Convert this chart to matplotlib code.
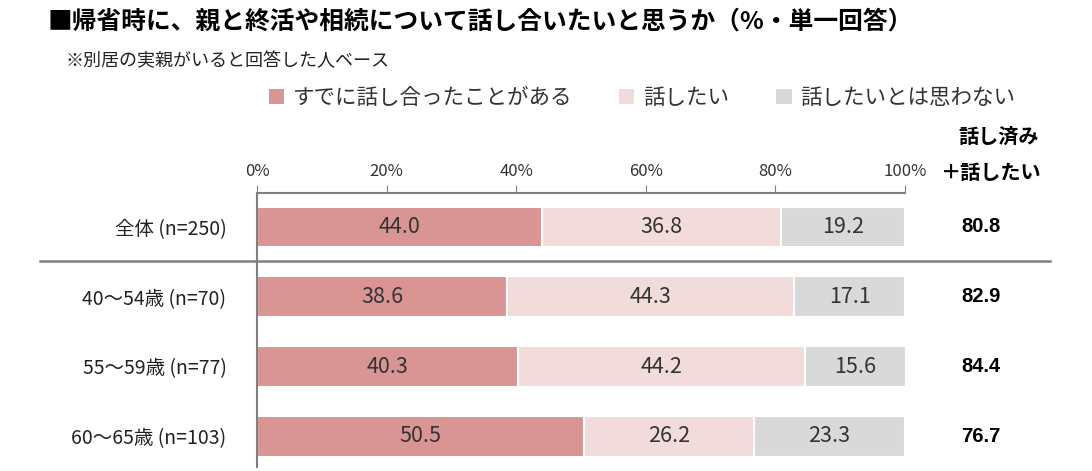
import matplotlib
matplotlib.use('Agg')
from matplotlib import pyplot as plt
from matplotlib.patches import Patch
from matplotlib.lines import Line2D

plt.rcParams['font.family'] = ['Noto Sans CJK JP', 'DejaVu Sans']

# Data
groups = ['全体 (n=250)', '40～54歳 (n=70)', '55～59歳 (n=77)', '60～65歳 (n=103)']
already = [44.0, 38.6, 40.3, 50.5]
want = [36.8, 44.3, 44.2, 26.2]
not_want = [19.2, 17.1, 15.6, 23.3]
totals = [80.8, 82.9, 84.4, 76.7]
series_names = ['すでに話し合ったことがある', '話したい', '話したいとは思わない']
colors = ['#D99594', '#F2DCDB', '#D9D9D9']
ticks = [0, 20, 40, 60, 80, 100]

fig = plt.figure(figsize=(10.92, 4.71), dpi=100)
ax = fig.add_axes([257/1092, 1-467/471, (905-257)/1092, (467-193)/471])

ypos = list(range(len(groups)))
left = [0]*len(groups)
for vals, col in zip([already, want, not_want], colors):
    ax.barh(ypos, vals, left=left, height=0.58, color=col, edgecolor='white', linewidth=1.5)
    for y, v, l in zip(ypos, vals, left):
        ax.text(l + v/2, y, '%.1f' % v, ha='center', va='center', fontsize=15.5, color='#333333')
    left = [a + b for a, b in zip(left, vals)]

ax.set_xlim(0, 100)
ax.set_ylim(3.44, -0.486)
ax.xaxis.tick_top()
ax.set_xticks(ticks)
ax.set_xticklabels(['%d%%' % t for t in ticks], fontsize=12, color='#333333')
ax.tick_params(axis='x', length=6, color='#808080', pad=3, direction='out')
ax.set_yticks(ypos)
ax.set_yticklabels(groups, fontsize=14, color='#222222')
ax.tick_params(axis='y', length=0, pad=22)
for s in ['right', 'bottom']:
    ax.spines[s].set_visible(False)
for s in ['top', 'left']:
    ax.spines[s].set_color('#808080')
    ax.spines[s].set_linewidth(1.5)

# separator between total and age groups
fig.add_artist(Line2D([40/1092, 1050/1092], [1-261/471, 1-261/471], color='#808080', lw=1.8))

# right column
for y, t in zip(ypos, totals):
    ax.text(1.117, y, '%.1f' % t, transform=ax.get_yaxis_transform(), ha='center', va='center',
            fontsize=14.5, fontweight='bold', family=['Liberation Sans', 'DejaVu Sans'])
fig.text(999/1092, 1-136/471, '話し済み', ha='center', va='center', fontsize=14.5, fontweight='bold')
fig.text(990/1092, 1-173/471, '＋話したい', ha='center', va='center', fontsize=14.5, fontweight='bold')

# title
fig.text(48/1092, 1-22/471, '■帰省時に、親と終活や相続について話し合いたいと思うか（%・単一回答）',
         ha='left', va='center', fontsize=17.8, fontweight='bold')
fig.text(65/1092, 1-61/471, '※別居の実親がいると回答した人ベース', ha='left', va='center', fontsize=13,
         color='#222222')

handles = [Patch(facecolor=c, edgecolor='none') for c in colors]
fig.legend(handles, series_names, loc='center', bbox_to_anchor=(642/1092, 1-98/471), ncol=3,
           frameon=False, fontsize=15.5, handlelength=0.7, handleheight=0.7, handletextpad=0.4,
           columnspacing=2.2, labelcolor='#333333')

fig.savefig('out.png', dpi=100)
